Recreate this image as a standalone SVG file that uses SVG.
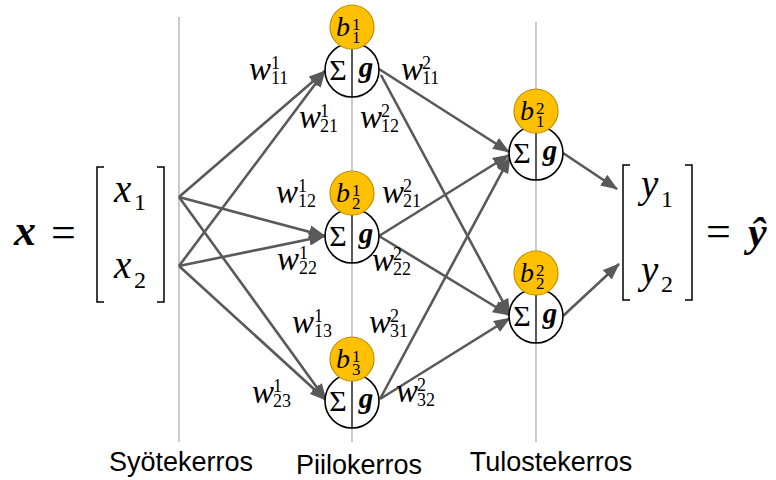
<svg xmlns="http://www.w3.org/2000/svg" width="776" height="480" viewBox="0 0 776 480">
<defs>
<style>
.layer{stroke:#BFBFBF;stroke-width:1.6;fill:none}
.conn{stroke:#595959;stroke-width:2.6;fill:none;marker-end:url(#ah)}
.bias{fill:#FFC000;stroke:#BF9000;stroke-width:1.2}
.sum{fill:#fff;stroke:#000;stroke-width:1.6}
.div{stroke:#000;stroke-width:1.3}
.br{stroke:#000;stroke-width:1.5;fill:none}
.m{font-family:"Liberation Serif","DejaVu Serif",serif;fill:#000}
.it{font-style:italic}
.bi{font-style:italic;font-weight:bold}
.w{font-size:33px}
.sc{font-size:18px}
.b{font-size:28px}
.bs{font-size:17px}
.sig{font-size:30px;text-anchor:middle}
.g{font-size:29px;text-anchor:middle;font-style:italic;font-weight:bold}
.lab{font-family:"Liberation Sans","Open Sans",sans-serif;font-size:27px;text-anchor:middle;fill:#000}
</style>
<marker id="ah" markerWidth="17" markerHeight="13" refX="16" refY="6.5" orient="auto" markerUnits="userSpaceOnUse">
<path d="M0,0 L17,6.5 L0,13 z" fill="#595959"/>
</marker>
</defs>
<rect width="776" height="480" fill="#fff"/>

<g id="layer-lines">
<line class="layer" x1="179" y1="17" x2="179" y2="442"/>
<line class="layer" x1="352" y1="15" x2="352" y2="442"/>
<line class="layer" x1="536" y1="22" x2="536" y2="442"/>
</g>

<g id="connectors">
<line class="conn" x1="179" y1="197" x2="325" y2="71"/>
<line class="conn" x1="179" y1="197" x2="325" y2="236"/>
<line class="conn" x1="179" y1="197" x2="326" y2="400"/>
<line class="conn" x1="179" y1="266" x2="325" y2="71"/>
<line class="conn" x1="179" y1="266" x2="325" y2="236"/>
<line class="conn" x1="179" y1="266" x2="326" y2="400"/>
<line class="conn" x1="379" y1="69" x2="509" y2="152"/>
<line class="conn" x1="381" y1="75" x2="510" y2="315"/>
<line class="conn" x1="379" y1="236" x2="509" y2="155"/>
<line class="conn" x1="379" y1="236" x2="509" y2="315"/>
<line class="conn" x1="380" y1="399" x2="510" y2="157"/>
<line class="conn" x1="380" y1="399" x2="510" y2="318"/>
<line class="conn" x1="563" y1="153" x2="617" y2="189"/>
<line class="conn" x1="563" y1="316" x2="619" y2="264"/>
</g>

<g id="input-vector">
<text class="m bi" x="14" y="245" font-size="44">x</text>
<text class="m" x="51" y="247" font-size="44">=</text>
<path class="br" d="M104,167 H97 V302 H104"/>
<path class="br" d="M157,167 H164 V302 H157"/>
<text class="m it" x="114" y="202" font-size="39">x</text>
<text class="m" x="134" y="210" font-size="24">1</text>
<text class="m it" x="114" y="278" font-size="39">x</text>
<text class="m" x="134" y="288" font-size="24">2</text>
</g>

<g id="hidden-1">
<circle class="sum" cx="352" cy="70" r="27"/>
<line class="div" x1="352" y1="43" x2="352" y2="97"/>
<text class="m sig" x="338" y="80">Σ</text>
<text class="m g" x="366" y="77">g</text>
<circle class="bias" cx="352" cy="27" r="22"/>
<text class="m it b" x="336" y="36">b</text>
<text class="m bs" x="352" y="30">1</text>
<text class="m bs" x="352" y="43">1</text>
</g>

<g id="hidden-2">
<circle class="sum" cx="352" cy="236" r="27"/>
<line class="div" x1="352" y1="209" x2="352" y2="263"/>
<text class="m sig" x="338" y="246">Σ</text>
<text class="m g" x="366" y="243">g</text>
<circle class="bias" cx="352" cy="193" r="22"/>
<text class="m it b" x="336" y="202">b</text>
<text class="m bs" x="352" y="196">1</text>
<text class="m bs" x="352" y="209">2</text>
</g>

<g id="hidden-3">
<circle class="sum" cx="352" cy="401" r="27"/>
<line class="div" x1="352" y1="374" x2="352" y2="428"/>
<text class="m sig" x="338" y="411">Σ</text>
<text class="m g" x="366" y="408">g</text>
<circle class="bias" cx="352" cy="359" r="22"/>
<text class="m it b" x="336" y="368">b</text>
<text class="m bs" x="352" y="362">1</text>
<text class="m bs" x="352" y="375">3</text>
</g>

<g id="output-1">
<circle class="sum" cx="536" cy="153" r="27"/>
<line class="div" x1="536" y1="126" x2="536" y2="180"/>
<text class="m sig" x="522" y="163">Σ</text>
<text class="m g" x="550" y="160">g</text>
<circle class="bias" cx="536" cy="111" r="22"/>
<text class="m it b" x="520" y="120">b</text>
<text class="m bs" x="536" y="114">2</text>
<text class="m bs" x="536" y="127">1</text>
</g>

<g id="output-2">
<circle class="sum" cx="536" cy="316" r="27"/>
<line class="div" x1="536" y1="289" x2="536" y2="343"/>
<text class="m sig" x="522" y="326">Σ</text>
<text class="m g" x="550" y="323">g</text>
<circle class="bias" cx="536" cy="273" r="22"/>
<text class="m it b" x="520" y="282">b</text>
<text class="m bs" x="536" y="276">2</text>
<text class="m bs" x="536" y="289">2</text>
</g>

<g id="output-vector">
<path class="br" d="M630,165 H623 V300 H630"/>
<path class="br" d="M685,165 H692 V300 H685"/>
<text class="m it" x="641" y="197" font-size="39">y</text>
<text class="m" x="661" y="207" font-size="24">1</text>
<text class="m it" x="641" y="283" font-size="39">y</text>
<text class="m" x="661" y="292" font-size="24">2</text>
<text class="m" x="706" y="246" font-size="44">=</text>
<text class="m bi" x="748" y="246" font-size="42">ŷ</text>
</g>

<g id="weights">
<text class="m it w" x="249" y="80">w</text><text class="m sc" x="271" y="69">1</text><text class="m sc" x="271" y="84">11</text>
<text class="m it w" x="299" y="128">w</text><text class="m sc" x="320" y="117">1</text><text class="m sc" x="320" y="132">21</text>
<text class="m it w" x="401" y="80">w</text><text class="m sc" x="422" y="69">2</text><text class="m sc" x="422" y="84">11</text>
<text class="m it w" x="360" y="128">w</text><text class="m sc" x="381" y="117">2</text><text class="m sc" x="381" y="132">12</text>
<text class="m it w" x="276" y="203">w</text><text class="m sc" x="298" y="192">1</text><text class="m sc" x="298" y="207">12</text>
<text class="m it w" x="382" y="203">w</text><text class="m sc" x="403" y="192">2</text><text class="m sc" x="403" y="207">21</text>
<text class="m it w" x="277" y="270">w</text><text class="m sc" x="299" y="259">1</text><text class="m sc" x="299" y="274">22</text>
<text class="m it w" x="372" y="271">w</text><text class="m sc" x="393" y="260">2</text><text class="m sc" x="393" y="275">22</text>
<text class="m it w" x="292" y="333">w</text><text class="m sc" x="314" y="322">1</text><text class="m sc" x="314" y="337">13</text>
<text class="m it w" x="369" y="333">w</text><text class="m sc" x="390" y="322">2</text><text class="m sc" x="390" y="337">31</text>
<text class="m it w" x="252" y="403">w</text><text class="m sc" x="273" y="392">1</text><text class="m sc" x="273" y="407">23</text>
<text class="m it w" x="396" y="402">w</text><text class="m sc" x="417" y="391">2</text><text class="m sc" x="417" y="406">32</text>
</g>

<g id="layer-labels">
<text class="lab" x="181" y="471">Syötekerros</text>
<text class="lab" x="359" y="474">Piilokerros</text>
<text class="lab" x="551" y="471">Tulostekerros</text>
</g>
</svg>
